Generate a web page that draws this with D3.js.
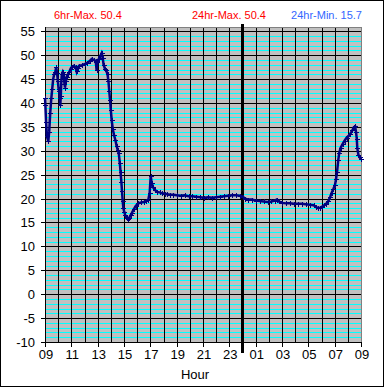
<!DOCTYPE html>
<html>
<head>
<meta charset="utf-8">
<script src="https://d3js.org/d3.v7.min.js"></script>
<style>
    body { margin: 0; background: #fff; }
    text { font-family: "Liberation Sans", Arial, sans-serif; }
</style>
</head>
<body>
<div id="chart"></div>
<script>
// hours after 09:00 and the reading at that time
const hours = [0.00, 0.03, 0.08, 0.15, 0.25, 0.32, 0.40, 0.48, 0.55, 0.62, 0.70, 0.78, 0.85, 0.92, 0.98,
    1.03, 1.08, 1.12, 1.16, 1.20, 1.24, 1.28, 1.35, 1.42, 1.48, 1.52, 1.58, 1.65, 1.75, 1.85, 1.95,
    2.05, 2.20, 2.32, 2.40, 2.48, 2.60, 2.80, 3.00, 3.20, 3.40, 3.55, 3.70, 3.85, 3.92, 3.98,
    4.10, 4.20, 4.30, 4.38, 4.45, 4.55, 4.65, 4.75, 4.82, 4.88, 4.94, 5.00, 5.06, 5.15, 5.25,
    5.35, 5.44, 5.52, 5.60, 5.68, 5.74, 5.80, 5.85, 5.90, 5.95, 6.02, 6.10, 6.20, 6.30, 6.40,
    6.50, 6.60, 6.75, 6.90, 7.10, 7.30, 7.50, 7.70, 7.85, 7.95, 8.03, 8.10, 8.20, 8.35, 8.50,
    8.70, 8.90, 9.10, 9.30, 9.50, 9.75, 10.0, 10.3, 10.6, 10.9, 11.2, 11.5, 11.8, 12.1, 12.4,
    12.7, 13.0, 13.3, 13.6, 13.9, 14.2, 14.5, 14.8, 15.0, 15.2, 15.4, 15.7, 16.0, 16.3, 16.6,
    16.9, 17.2, 17.45, 17.6, 17.75, 18.0, 18.3, 18.6, 18.9, 19.2, 19.5, 19.8, 20.1, 20.4, 20.6,
    20.75, 20.9, 21.05, 21.2, 21.35, 21.5, 21.65, 21.77, 21.9, 22.02, 22.1, 22.18, 22.27, 22.35,
    22.45, 22.6, 22.75, 22.9, 23.05, 23.2, 23.35, 23.45, 23.55, 23.62, 23.68, 23.72, 23.8, 23.9, 24.0];
const values = [41, 39.5, 36, 33, 32, 34, 38, 41, 43, 45, 46, 46.5, 47.5, 46.2, 44.5,
    43, 42.5, 41, 39.5, 41.5, 44.5, 46, 46.5, 46, 44, 43.2, 44.5, 45.5, 46, 46.5, 47.2,
    47.6, 47.8, 47.5, 46.6, 47.3, 47.8, 47.9, 48.1, 48.4, 48.8, 49.2, 49.0, 48.8, 46.8, 48.5,
    49.3, 49.8, 50.4, 49.5, 48.0, 47.2, 46.8, 46.0, 44.5, 42.5, 40.7, 38.5, 36.5, 34.5, 33.2,
    32.2, 31.0, 30.2, 29.5, 27.5, 25.5, 23.5, 21.5, 19.5, 18.0, 17.2, 16.5, 16.0, 15.7, 16.0,
    16.5, 17.0, 17.8, 18.5, 19.0, 19.2, 19.3, 19.5, 19.8, 21.2, 24.7, 23.3, 22.4, 21.8, 21.4,
    21.3, 21.1, 21.0, 20.9, 20.8, 20.8, 20.7, 20.6, 20.7, 20.5, 20.5, 20.4, 20.3, 20.2, 20.3,
    20.2, 20.3, 20.4, 20.5, 20.6, 20.7, 20.7, 20.6, 20.4, 20.0, 19.8, 19.8, 19.6, 19.5, 19.4,
    19.3, 19.4, 19.6, 19.8, 19.4, 19.1, 19.0, 19.0, 18.9, 18.9, 18.9, 18.8, 18.7, 18.6, 18.2,
    18.0, 18.1, 18.3, 18.6, 18.9, 19.4, 20.3, 21.2, 22.0, 22.8, 24.0, 25.6, 28.0, 29.6,
    30.6, 31.4, 32.1, 32.7, 33.1, 33.6, 34.3, 34.9, 35.1, 34.0, 32.5, 30.5, 29.2, 28.6, 28.2];

const xTicks = [0, 2, 4, 6, 8, 10, 12, 14, 16, 18, 20, 22, 24];
const xTickLabels = ["09", "11", "13", "15", "17", "19", "21", "23", "01", "03", "05", "07", "09"];
const yTicks = [-10, -5, 0, 5, 10, 15, 20, 25, 30, 35, 40, 45, 50, 55];
const midnight = 15;
const titles = ["6hr-Max. 50.4", "24hr-Max. 50.4", "24hr-Min. 15.7"];

const width = 385, height = 388;
const plotLeft = 45, plotRight = 361, plotTop = 26.5, plotBottom = 342;
const topPx = Math.round(plotTop);

const x = d3.scaleLinear().domain([0, 24]).range([plotLeft, plotRight]);
const y = d3.scaleLinear().domain([-10, 56]).range([plotBottom, plotTop]);
const px = v => Math.round(v) + 0.5;

let svg = d3.select("#chart")
    .append("svg")
    .attr("width", width)
    .attr("height", height);

// outer frame
svg.append("rect")
    .attr("x", 0.5).attr("y", 0.5)
    .attr("width", width - 2).attr("height", height - 2)
    .style("fill", "#fff")
    .style("stroke", "#000");

// plot background
svg.append("rect")
    .attr("x", plotLeft).attr("y", topPx)
    .attr("width", plotRight - plotLeft).attr("height", plotBottom - topPx)
    .style("fill", "#c0c0c0");

// minor horizontal lines (every unit)
let minor = d3.range(-9, 56).filter(v => v % 5 !== 0);
svg.selectAll(".minorLines")
    .data(minor)
    .join("line")
    .classed("minorLines", true)
    .attr("x1", plotLeft).attr("x2", plotRight)
    .attr("y1", d => px(y(d))).attr("y2", d => px(y(d)))
    .style("stroke", "#00ffff")
    .style("stroke-width", "1px");

// major horizontal lines
svg.selectAll(".majorLines")
    .data(yTicks)
    .join("line")
    .classed("majorLines", true)
    .attr("x1", plotLeft).attr("x2", plotRight)
    .attr("y1", d => px(y(d))).attr("y2", d => px(y(d)))
    .style("stroke", "#000")
    .style("stroke-width", "1px");

// vertical lines every hour
svg.selectAll(".hourLines")
    .data(d3.range(1, 24))
    .join("line")
    .classed("hourLines", true)
    .attr("x1", d => px(x(d))).attr("x2", d => px(x(d)))
    .attr("y1", topPx).attr("y2", plotBottom)
    .style("stroke", "#000")
    .style("stroke-width", "1px");

// plot border
svg.append("rect")
    .attr("x", plotLeft + 0.5).attr("y", topPx + 0.5)
    .attr("width", plotRight - plotLeft).attr("height", plotBottom - topPx)
    .style("fill", "none")
    .style("stroke", "#808080");

// axes lines
svg.append("line")
    .attr("x1", plotLeft + 0.5).attr("x2", plotLeft + 0.5)
    .attr("y1", topPx).attr("y2", plotBottom + 1)
    .style("stroke", "#000");
svg.append("line")
    .attr("x1", plotLeft).attr("x2", plotRight + 1)
    .attr("y1", plotBottom + 0.5).attr("y2", plotBottom + 0.5)
    .style("stroke", "#000");

// y ticks and labels
svg.selectAll(".yTicks")
    .data(yTicks)
    .join("line")
    .classed("yTicks", true)
    .attr("x1", plotLeft - 4).attr("x2", plotLeft)
    .attr("y1", d => px(y(d))).attr("y2", d => px(y(d)))
    .style("stroke", "#000");
svg.selectAll(".yLabels")
    .data(yTicks)
    .join("text")
    .classed("yLabels", true)
    .attr("x", plotLeft - 10)
    .attr("y", d => y(d) + 5)
    .attr("text-anchor", "end")
    .attr("font-size", "13px")
    .text(d => d);

// x ticks and labels
svg.selectAll(".xTicks")
    .data(xTicks)
    .join("line")
    .classed("xTicks", true)
    .attr("x1", d => px(x(d))).attr("x2", d => px(x(d)))
    .attr("y1", plotBottom).attr("y2", plotBottom + 5)
    .style("stroke", "#000");
svg.selectAll(".xLabels")
    .data(xTicks)
    .join("text")
    .classed("xLabels", true)
    .attr("x", d => x(d) + 1)
    .attr("y", plotBottom + 17)
    .attr("text-anchor", "middle")
    .attr("font-size", "13px")
    .text((d, i) => xTickLabels[i]);

svg.append("text")
    .attr("x", 195).attr("y", 379)
    .attr("text-anchor", "middle")
    .attr("font-size", "13px")
    .text("Hour");

// midnight marker
svg.append("line")
    .attr("x1", x(midnight)).attr("x2", x(midnight))
    .attr("y1", 24).attr("y2", 353)
    .style("stroke", "#000")
    .style("stroke-width", "3px");

// series
let points = hours.map((h, i) => ({ h: h, v: values[i] }));
svg.append("path")
    .datum(points)
    .attr("d", d3.line().x(d => x(d.h)).y(d => y(d.v)))
    .style("fill", "none")
    .style("stroke", "#000080")
    .style("stroke-width", "2.5px");
svg.selectAll(".marks")
    .data(points)
    .join("path")
    .classed("marks", true)
    .attr("d", d => {
        let cx = Math.round(x(d.h)) + 0.5, cy = Math.round(y(d.v)) + 0.5;
        return `M${cx - 2.5},${cy}H${cx + 2.5}M${cx},${cy - 2.5}V${cy + 2.5}`;
    })
    .style("stroke", "#000080")
    .style("stroke-width", "1px");

// header
svg.append("text")
    .attr("x", 54).attr("y", 19)
    .attr("font-size", "11px").attr("fill", "#ff0000")
    .text(titles[0]);
svg.append("text")
    .attr("x", 192).attr("y", 19)
    .attr("font-size", "11px").attr("fill", "#ff0000")
    .text(titles[1]);
svg.append("text")
    .attr("x", 362).attr("y", 19)
    .attr("text-anchor", "end")
    .attr("font-size", "11px").attr("fill", "#3366ff")
    .text(titles[2]);
</script>
</body>
</html>
